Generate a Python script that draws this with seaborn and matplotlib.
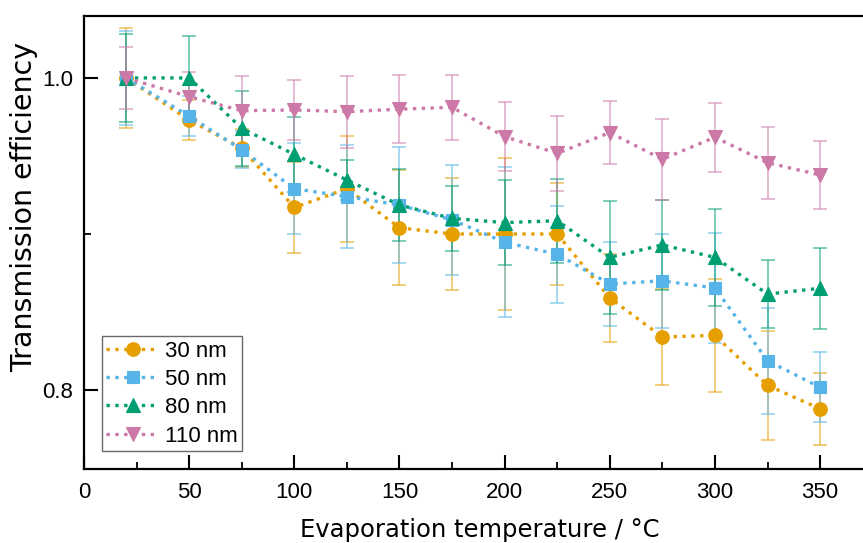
import numpy as np
import pandas as pd
import matplotlib
matplotlib.use("Agg")
import matplotlib.pyplot as plt
import seaborn as sns
from matplotlib.ticker import MultipleLocator

temps = [20, 50, 75, 100, 125, 150, 175, 200, 225, 250, 275, 300, 325, 350]
labels = ["30 nm", "50 nm", "80 nm", "110 nm"]

eff_30 = [1.0, 0.973, 0.955, 0.917, 0.929, 0.904, 0.900, 0.900, 0.900, 0.859, 0.834, 0.835, 0.803, 0.788]
err_30 = [0.032, 0.013, 0.012, 0.029, 0.034, 0.037, 0.036, 0.049, 0.033, 0.028, 0.031, 0.036, 0.035, 0.023]

eff_50 = [1.0, 0.9755, 0.954, 0.929, 0.924, 0.9186, 0.909, 0.8947, 0.887, 0.868, 0.870, 0.8654, 0.8188, 0.8017]
err_50 = [0.030, 0.013, 0.012, 0.029, 0.033, 0.037, 0.035, 0.048, 0.031, 0.027, 0.030, 0.035, 0.034, 0.0225]

eff_80 = [1.0, 1.0, 0.9677, 0.951, 0.9346, 0.9186, 0.910, 0.9073, 0.9085, 0.885, 0.893, 0.885, 0.8615, 0.8652]
err_80 = [0.028, 0.027, 0.024, 0.024, 0.013, 0.023, 0.021, 0.027, 0.027, 0.036, 0.029, 0.031, 0.022, 0.026]

eff_110 = [1.0, 0.988, 0.979, 0.9795, 0.9784, 0.980, 0.9812, 0.9624, 0.9517, 0.965, 0.9479, 0.962, 0.9457, 0.9378]
err_110 = [0.020, 0.016, 0.022, 0.019, 0.023, 0.022, 0.021, 0.022, 0.024, 0.020, 0.026, 0.022, 0.023, 0.022]

colors = ["#E69F00", "#56B4E9", "#009E73", "#CC79A7"]
markers = ["o", "s", "^", "v"]
msizes = [9.8, 8.8, 10.5, 10.5]

series = [eff_30, eff_50, eff_80, eff_110]
errors = [err_30, err_50, err_80, err_110]

sns.set_theme(style="white")
plt.rcParams["font.family"] = ["Liberation Sans", "DejaVu Sans"]
plt.rcParams["text.color"] = "black"

W, H = 863, 543
fig = plt.figure(figsize=(W / 100, H / 100), dpi=100)
ax_left, ax_top, ax_bottom = 84, 16, 469
ax = fig.add_axes([ax_left / W, (H - ax_bottom) / H, 1 - ax_left / W, (ax_bottom - ax_top) / H])
axw, axh = W - ax_left, ax_bottom - ax_top

for lab, vals, errs, c in zip(labels, series, errors, colors):
    ax.errorbar(temps, vals, yerr=errs, fmt="none", ecolor=c, alpha=0.55,
                elinewidth=1.3, capsize=4.7, capthick=1.3, zorder=2)

for lab, vals, c, m, ms in zip(labels, series, colors, markers, msizes):
    df = pd.DataFrame({"T": temps, "eff": vals})
    sns.lineplot(data=df, x="T", y="eff", ax=ax, color=c, marker=m,
                 markersize=ms, markeredgewidth=0.8, markeredgecolor=c,
                 linestyle=":", linewidth=2.4, label=lab, zorder=3)

ax.set_xlim(0, 370.4)
ax.set_ylim(0.7494, 1.0397)
ax.xaxis.set_major_locator(MultipleLocator(50))
ax.xaxis.set_minor_locator(MultipleLocator(25))
ax.set_yticks([0.8, 1.0])
ax.set_yticklabels(["0.8", "1.0"])
ax.yaxis.set_minor_locator(MultipleLocator(0.1))

ax.tick_params(axis="both", which="major", direction="in", length=10, width=1.5,
               labelsize=16, color="black", labelcolor="black", pad=8)
ax.tick_params(axis="both", which="minor", direction="in", length=5, width=1.3,
               color="black")
ax.tick_params(axis="x", which="major", pad=9)
ax.tick_params(left=True, bottom=True, which="both")

for side in ["left", "bottom", "top"]:
    ax.spines[side].set_color("black")
    ax.spines[side].set_linewidth(1.6)
ax.spines["right"].set_visible(False)

ax.set_xlabel("Evaporation temperature / °C", fontsize=17.5, color="black",
              family="DejaVu Sans")
ax.set_ylabel("Transmission efficiency", fontsize=20.5, color="black",
              family="DejaVu Sans")
ax.xaxis.set_label_coords((480 - ax_left) / axw, -(517.5 - ax_bottom) / axh)
ax.yaxis.set_label_coords((38.5 - ax_left) / axw, (ax_bottom - 206.5) / axh)

leg = ax.legend(loc="lower left",
                bbox_to_anchor=((102 - ax_left) / axw, (ax_bottom - 451) / axh),
                fontsize=16, frameon=True, fancybox=False, handlelength=2.35,
                handletextpad=0.28, borderpad=0.2, labelspacing=0.33,
                borderaxespad=0.0, labelcolor="black")
leg.get_frame().set_edgecolor("#444444")
leg.get_frame().set_linewidth(1.0)

fig.savefig("out.png", dpi=100)
